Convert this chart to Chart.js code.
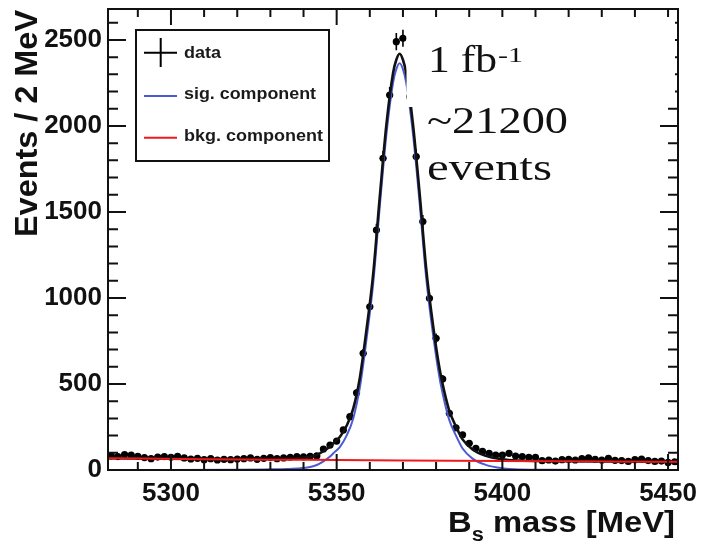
<!DOCTYPE html>
<html><head><meta charset="utf-8">
<script src="https://cdn.jsdelivr.net/npm/chart.js@4.4.1/dist/chart.umd.min.js"></script>
<style>html,body{margin:0;padding:0;background:#fff;}canvas{display:block;}</style>
</head><body>
<canvas id="c" width="701" height="543"></canvas>
<script>
// ---- data ----
const massBins = [
 5282,5284,5286,5288,5290,5292,5294,5296,5298,5300,
 5302,5304,5306,5308,5310,5312,5314,5316,5318,5320,
 5322,5324,5326,5328,5330,5332,5334,5336,5338,5340,
 5342,5344,5346,5348,5350,5352,5354,5356,5358,5360,
 5362,5364,5366,5368,5370,5372,5374,5376,5378,5380,
 5382,5384,5386,5388,5390,5392,5394,5396,5398,5400,
 5402,5404,5406,5408,5410,5412,5414,5416,5418,5420,
 5422,5424,5426,5428,5430,5432,5434,5436,5438,5440,
 5442,5444,5446,5448,5450,5452];
const counts = [
 82,78,90,86,80,72,66,75,78,74,
 80,70,64,68,60,66,58,62,60,64,
 66,70,62,68,72,66,70,74,78,76,
 80,82,122,145,168,233,310,449,678,949,
 1395,1812,2180,2490,2510,2170,1822,1444,998,766,
 529,330,245,205,155,126,108,97,87,87,
 97,81,78,74,74,54,58,52,60,62,
 58,66,70,62,58,68,56,55,50,60,
 64,55,50,52,44,48];
const countErrors = [
 9,9,9,9,9,8,8,9,9,9,
 9,8,8,8,8,8,8,8,8,8,
 8,8,8,8,8,8,8,9,9,9,
 9,9,11,12,13,15,18,21,26,31,
 37,43,47,50,50,47,43,38,32,28,
 23,18,16,14,12,11,10,10,9,9,
 10,9,9,9,9,7,8,7,8,8,
 8,8,8,8,8,8,7,7,7,8,
 8,7,7,7,7,7];
const curveMass = [5281,5300,5320,5330,5335,5339,5342,5344,5346,5348,5349,5351,5353,5355,5357,5359,5361,5363,5365,5367,5368,5369,5370,5371,5373,5375,5377,5379,5381,5382.5,5384,5386,5388,5391,5395,5400,5405,5415,5430,5453];
const sigCurve   = [0,0,1,4,6,10,18,29,50,78,97,135,200,300,480,760,1080,1530,1950,2250,2330,2365,2330,2250,1960,1560,1120,800,540,400,290,200,125,66,30,10,3,1,0,0];
const totalCurve = [68,65,63,65,66,70,77,88,109,136,155,193,257,357,537,816,1136,1586,2006,2305,2385,2420,2385,2305,2015,1615,1174,854,594,454,344,253,178,119,83,62,55,52,50,48];
const bkgMass  = [5281,5310,5340,5370,5400,5430,5453];
const bkgCurve = [68,63,59,55,52,50,48];
const xRange = [5281,5453];
const yRange = [0,2680];
const xTickValues = [5300,5350,5400,5450];
const yTickValues = [0,500,1000,1500,2000,2500];
const legendLabels = ['data','sig. component','bkg. component'];
const noteLumi = ['1 fb','-1'];
const noteEvents = ['~21200','events'];
const xTitleParts = ['B','s',' mass [MeV]'];
const yTitle = 'Events / 2 MeV';

// ---- styles ----
const SANS = '"Liberation Sans", Arial, Helvetica, sans-serif';
const SERIF = '"Liberation Serif", "Times New Roman", serif';
const BLUE = '#4b5bd2';
const RED = '#f01818';

function fitText(ctx, text, x, y, targetW, align){
  const w = ctx.measureText(text).width;
  const s = targetW / w;
  ctx.save();
  ctx.translate(x, y);
  ctx.scale(s, 1);
  ctx.textAlign = align || 'left';
  ctx.fillText(text, 0, 0);
  ctx.restore();
}
function noPad(s){ s.paddingLeft = 0; s.paddingRight = 0; s.paddingTop = 0; s.paddingBottom = 0; }

const rootStyle = {
  id: 'rootStyle',
  beforeDatasetsDraw(chart){
    const {ctx, chartArea:a} = chart; const xs = chart.scales.x, ys = chart.scales.y;
    ctx.save();
    ctx.beginPath(); ctx.rect(a.left, a.top, a.right-a.left, a.bottom-a.top); ctx.clip();
    ctx.strokeStyle = '#000'; ctx.lineWidth = 1.6;
    massBins.forEach((m,i)=>{
      const px = xs.getPixelForValue(m), py = ys.getPixelForValue(counts[i]);
      ctx.beginPath();
      ctx.moveTo(px, ys.getPixelForValue(counts[i]-countErrors[i]));
      ctx.lineTo(px, ys.getPixelForValue(counts[i]+countErrors[i]));
      ctx.moveTo(xs.getPixelForValue(m-1), py);
      ctx.lineTo(xs.getPixelForValue(m+1), py);
      ctx.stroke();
    });
    ctx.restore();
  },
  afterDraw(chart){
    const {ctx, chartArea:a} = chart; const xs = chart.scales.x, ys = chart.scales.y;
    ctx.save();
    // frame
    ctx.strokeStyle = '#111'; ctx.lineWidth = 2;
    ctx.strokeRect(a.left, a.top, a.right-a.left, a.bottom-a.top);
    // inward ticks
    ctx.beginPath();
    for (let v = Math.ceil(xRange[0]/10)*10; v <= xRange[1]; v += 10){
      const p = xs.getPixelForValue(v);
      const L = (v % 50 === 0) ? 16 : 8;
      ctx.moveTo(p, a.bottom); ctx.lineTo(p, a.bottom - L);
      ctx.moveTo(p, a.top); ctx.lineTo(p, a.top + L);
    }
    for (let v = 0; v <= yRange[1]; v += 100){
      const p = ys.getPixelForValue(v);
      const L = (v % 500 === 0) ? 18 : 10;
      ctx.moveTo(a.left, p); ctx.lineTo(a.left + L, p);
      ctx.moveTo(a.right, p); ctx.lineTo(a.right - L, p);
    }
    ctx.stroke();

    // white note box (covers part of the curve & right ticks)
    ctx.fillStyle = '#fff';
    ctx.fillRect(406.5, 17, 268.5, 90);

    // notes (serif)
    ctx.fillStyle = '#111';
    ctx.textBaseline = 'alphabetic';
    ctx.font = '38px ' + SERIF;
    fitText(ctx, noteLumi[0], 428, 72, 69);
    ctx.font = '22px ' + SERIF;
    fitText(ctx, noteLumi[1], 498, 62, 25);
    ctx.font = '38px ' + SERIF;
    fitText(ctx, noteEvents[0], 427, 133, 141);
    fitText(ctx, noteEvents[1], 427, 180, 125);

    // legend
    ctx.fillStyle = '#fff';
    ctx.fillRect(136, 30, 193, 131);
    ctx.strokeStyle = '#111'; ctx.lineWidth = 2;
    ctx.strokeRect(136, 30, 193, 131);
    ctx.strokeStyle = '#000';
    ctx.beginPath();
    ctx.moveTo(160.7, 38); ctx.lineTo(160.7, 67);
    ctx.moveTo(144, 52.7); ctx.lineTo(177, 52.7);
    ctx.stroke();
    ctx.strokeStyle = BLUE;
    ctx.beginPath(); ctx.moveTo(144, 96); ctx.lineTo(177, 96); ctx.stroke();
    ctx.strokeStyle = RED;
    ctx.beginPath(); ctx.moveTo(144, 137.7); ctx.lineTo(177, 137.7); ctx.stroke();
    ctx.fillStyle = '#1a1a1a';
    ctx.font = 'bold 16px ' + SANS;
    ctx.textBaseline = 'middle';
    fitText(ctx, legendLabels[0], 184, 54, 37);
    fitText(ctx, legendLabels[1], 184, 95, 132);
    fitText(ctx, legendLabels[2], 184, 137, 139);

    // axis titles
    ctx.fillStyle = '#111';
    ctx.textBaseline = 'alphabetic';
    ctx.font = 'bold 30px ' + SANS;
    const wB = ctx.measureText(xTitleParts[0]).width;
    const wM = ctx.measureText(xTitleParts[2]).width;
    ctx.font = 'bold 20px ' + SANS;
    const wS = ctx.measureText(xTitleParts[1]).width;
    const target = 227, sx = target / (wB + wS + wM);
    ctx.save();
    ctx.translate(675 - target, 532);
    ctx.scale(sx, 1);
    ctx.font = 'bold 30px ' + SANS;
    ctx.fillText(xTitleParts[0], 0, 0);
    ctx.font = 'bold 20px ' + SANS;
    ctx.fillText(xTitleParts[1], wB, 9);
    ctx.font = 'bold 30px ' + SANS;
    ctx.fillText(xTitleParts[2], wB + wS, 0);
    ctx.restore();
    ctx.font = 'bold 31px ' + SANS;
    const wy = ctx.measureText(yTitle).width;
    ctx.save();
    ctx.translate(37, 237);
    ctx.rotate(-Math.PI/2);
    ctx.scale(227 / wy, 1);
    ctx.textAlign = 'left';
    ctx.fillText(yTitle, 0, 0);
    ctx.restore();

    ctx.restore();
  }
};

const dataPts = massBins.map((m,i)=>({x:m, y:counts[i]}));
const sigPts = curveMass.map((m,i)=>({x:m, y:sigCurve[i]}));
const totPts = curveMass.map((m,i)=>({x:m, y:totalCurve[i]}));
const bkgPts = bkgMass.map((m,i)=>({x:m, y:bkgCurve[i]}));

new Chart(document.getElementById('c'), {
  type: 'line',
  data: { datasets: [
    { label: legendLabels[0], data: dataPts, showLine: false, pointRadius: 3.6, pointBackgroundColor: '#000', pointBorderWidth: 0, order: 4 },
    { label: legendLabels[1], data: sigPts, borderColor: BLUE, borderWidth: 2, pointRadius: 0, cubicInterpolationMode: 'monotone', fill: false, order: 3 },
    { label: 'total fit', data: totPts, borderColor: '#111', borderWidth: 2.6, pointRadius: 0, cubicInterpolationMode: 'monotone', fill: false, order: 2 },
    { label: legendLabels[2], data: bkgPts, borderColor: RED, borderWidth: 2, pointRadius: 0, cubicInterpolationMode: 'monotone', fill: false, order: 1 }
  ]},
  options: {
    responsive: false, animation: false, devicePixelRatio: 1,
    layout: { padding: { left: 0, top: 9, right: 23, bottom: 0 } },
    plugins: { legend: { display: false }, tooltip: { enabled: false } },
    scales: {
      x: {
        type: 'linear', min: xRange[0], max: xRange[1],
        grid: { display: false, drawTicks: false }, border: { display: false },
        afterBuildTicks: s => { s.ticks = xTickValues.map(v => ({ value: v })); },
        ticks: { autoSkip: false, maxRotation: 0, minRotation: 0, padding: 8,
          color: '#111', font: { family: SANS, size: 26, weight: 'bold' },
          callback: v => String(v) },
        afterFit: s => { s.height = 73; noPad(s); }
      },
      y: {
        type: 'linear', min: yRange[0], max: yRange[1],
        grid: { display: false, drawTicks: false }, border: { display: false },
        afterBuildTicks: s => { s.ticks = yTickValues.map(v => ({ value: v })); },
        ticks: { autoSkip: false, padding: 6,
          color: '#111', font: { family: SANS, size: 26, weight: 'bold' },
          callback: v => String(v) },
        afterFit: s => { s.width = 108; noPad(s); }
      }
    }
  },
  plugins: [rootStyle]
});
</script>
</body></html>
